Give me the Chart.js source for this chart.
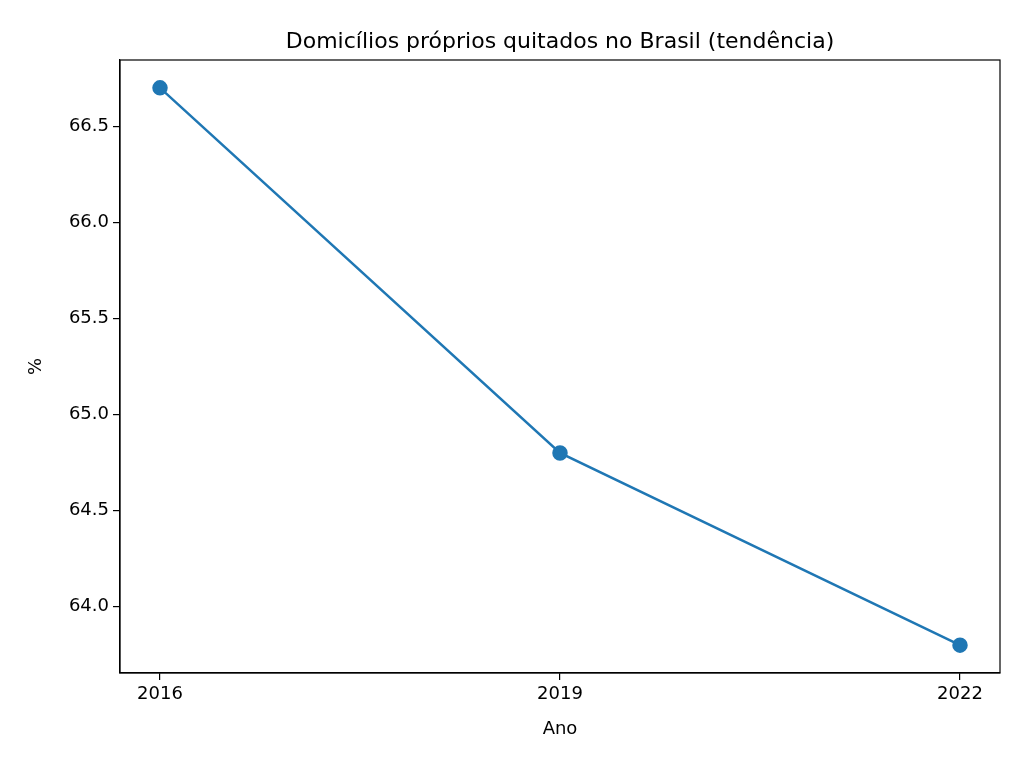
<!DOCTYPE html>
<html lang="pt">
<head>
<meta charset="UTF-8">
<title>Domicílios próprios quitados</title>
<script src="https://cdn.jsdelivr.net/npm/chart.js"></script>
<style>body{margin:0;background:#fff}#c{display:block}</style>
</head>
<body>
<canvas id="c" width="1024" height="768"></canvas>
<script>
const years = [2016, 2019, 2022];
const values = [66.7, 64.8, 63.8];
const yTicks = [64.0, 64.5, 65.0, 65.5, 66.0, 66.5];
const titleText = 'Domicílios próprios quitados no Brasil (tendência)';

// plot box frame and a title centred over the plot area, like matplotlib
const frame = {
  id: 'frame',
  afterDraw(chart) {
    const a = chart.chartArea, ctx = chart.ctx;
    ctx.save();
    ctx.strokeStyle = '#000';
    ctx.lineWidth = 1.2;
    ctx.strokeRect(a.left, a.top, a.right - a.left, a.bottom - a.top);
    ctx.fillStyle = '#000';
    ctx.font = '22px "DejaVu Sans"';
    ctx.textAlign = 'center';
    ctx.textBaseline = 'alphabetic';
    ctx.fillText(titleText, (a.left + a.right) / 2, a.top - 12);
    ctx.restore();
  }
};

const font = { family: 'DejaVu Sans', size: 18 };

new Chart(document.getElementById('c'), {
  type: 'line',
  data: {
    datasets: [{
      data: years.map((y, i) => ({ x: y, y: values[i] })),
      borderColor: '#1f77b4',
      backgroundColor: '#1f77b4',
      borderWidth: 2.5,
      pointRadius: 6.5,
      pointHoverRadius: 6.5,
      tension: 0
    }]
  },
  options: {
    responsive: false,
    animation: false,
    layout: { padding: { left: 22, right: 24, top: 60, bottom: 24 } },
    plugins: {
      legend: { display: false },
      tooltip: { enabled: false },
      title: { display: false }
    },
    scales: {
      x: {
        type: 'linear',
        min: 2015.7,
        max: 2022.3,
        afterBuildTicks(s) { s.ticks = years.map(v => ({ value: v })); },
        afterFit(s) { s.height = 71; },
        ticks: { color: '#000', font, padding: 4, callback: v => String(v) },
        grid: { drawOnChartArea: false, tickLength: 7, color: '#000', lineWidth: 1.2 },
        border: { color: '#000', width: 1.2 },
        title: { display: true, text: 'Ano', color: '#000', font, padding: { top: 2 } }
      },
      y: {
        min: 63.655,
        max: 66.845,
        afterBuildTicks(s) { s.ticks = yTicks.map(v => ({ value: v })); },
        afterFit(s) { s.width = 98; },
        ticks: { color: '#000', font, padding: 4, callback: v => v.toFixed(1) },
        grid: { drawOnChartArea: false, tickLength: 7, color: '#000', lineWidth: 1.2 },
        border: { color: '#000', width: 1.2 },
        title: { display: true, text: '%', color: '#000', font, padding: { bottom: 12 } }
      }
    }
  },
  plugins: [frame]
});
</script>
</body>
</html>
